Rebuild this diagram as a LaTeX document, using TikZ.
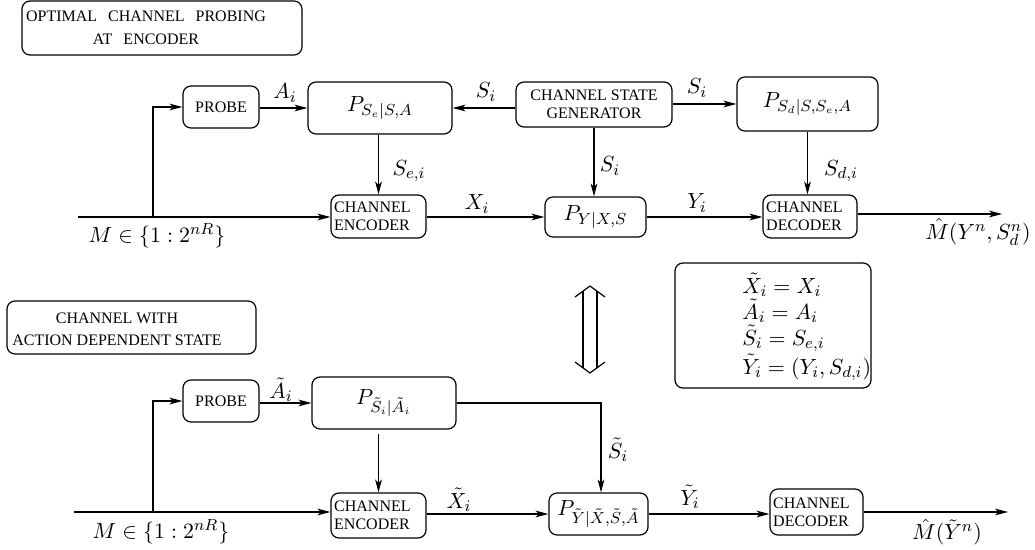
\documentclass[tikz,border=0pt]{standalone}
\usepackage{fontspec}
\setmainfont{Liberation Serif}
\usetikzlibrary{arrows.meta}
\begin{document}
\begin{tikzpicture}[x=0.5pt,y=-0.5pt,
 box/.style={draw, rounded corners=4pt, inner sep=0pt, font=\fontsize{8}{9}\selectfont, line width=0.6pt},
 tbox/.style={box, align=left, inner xsep=1.6pt},
 mbox/.style={box, font=\fontsize{11}{13}\selectfont},
 lab/.style={font=\fontsize{11}{13}\selectfont, inner sep=0pt},
 ttl/.style={font=\fontsize{8}{11.5}\selectfont, align=center, inner sep=0pt},
 conn/.style={line width=0.6pt, -{Stealth[length=6.5pt,width=3.4pt,inset=1.8pt]}},
 plain/.style={line width=0.6pt}]
\useasboundingbox (0,0) rectangle (1035,550);

% titles
\draw[plain, rounded corners=4pt] (22,1) rectangle (302,55);
\node[ttl] (t1) at (146,28) {OPTIMAL\hspace{3.5pt} CHANNEL\hspace{3.5pt} PROBING\\AT\hspace{3.5pt} ENCODER};
\draw[plain, rounded corners=4pt] (7,301) rectangle (256,354);
\node[ttl, font=\fontsize{8}{11}\selectfont] (t2) at (117,329) {CHANNEL WITH\\ACTION DEPENDENT STATE};

% top row boxes
\node[box, minimum width=38pt, minimum height=21pt] (probe1) at (221,107) {PROBE};
\node[mbox, minimum width=72pt, minimum height=26pt] (pse) at (380,108) {$P_{S_e|S,A}$};
\node[box, align=center, minimum width=78pt, minimum height=22.5pt] (csg) at (594,104.5) {CHANNEL STATE\\GENERATOR};
\node[mbox, minimum width=70.5pt, minimum height=27pt] (psd) at (807.5,104) {$P_{S_d|S,S_e,A}$};
\node[tbox, text width=44.3pt, minimum height=21.5pt] (enc1) at (378.5,216.5) {CHANNEL\\ENCODER};
\node[mbox, minimum width=50.5pt, minimum height=20pt] (py) at (595.5,217) {$P_{Y|X,S}$};
\node[tbox, text width=43.8pt, minimum height=21.5pt] (dec1) at (810,216.5) {CHANNEL\\DECODER};
\coordinate (in1) at (78,217);
\coordinate (br1) at (153,217);
\coordinate (out1) at (1002,214);

\draw[plain] (in1) -- (br1);
\draw[conn] (br1) -- (in1 -| enc1.west);
\draw[conn] (br1) |- (probe1.west);
\draw[conn] (probe1.east |- pse) -- (pse.west);
\draw[conn] (csg.west |- pse) -- (pse.east);
\draw[conn] (csg.east |- psd) -- (psd.west);
\draw[conn] (csg.south) -- (csg.south |- py.north);
\draw[conn] (pse.south -| enc1.north) -- (enc1.north);
\draw[conn] (psd.south) -- (psd.south |- dec1.north);
\draw[conn] (enc1.east |- py) -- (py.west);
\draw[conn] (py.east) -- (py.east -| dec1.west);
\draw[conn] (dec1.east |- out1) -- (out1);

\node[lab] (lA) at (285,93) {$A_i$};
\node[lab] (lS1) at (486,92) {$S_i$};
\node[lab] (lS2) at (697,88) {$S_i$};
\node[lab] (lS3) at (610,166) {$S_i$};
\node[lab] (lSe) at (409,171) {$S_{e,i}$};
\node[lab] (lSd) at (841,171) {$S_{d,i}$};
\node[lab] (lX) at (477,204) {$X_i$};
\node[lab] (lY) at (697,203) {$Y_i$};
\node[lab] (lM1) at (157,236) {$M\in\{1:2^{nR}\}$};
\node[lab] (lO1) at (978,232) {$\hat{M}(Y^n,S_d^n)$};

% equivalence arrow
\draw[plain] (575,297) -- (590,286) -- (605,297);
\draw[plain] (575,362) -- (590,373) -- (605,362);
\draw[plain] (583,291.1) -- (583,367.9);
\draw[plain] (597,291.1) -- (597,367.9);

% equations box
\node[box, minimum width=98pt, minimum height=62.5pt] (eq) at (773,325.5) {};
\node[lab, align=left, anchor=west, font=\fontsize{11}{13}\selectfont] (eqtxt) at (742,327) {$\tilde{X}_i=X_i$\\$\tilde{A}_i=A_i$\\$\tilde{S}_i=S_{e,i}$\\$\tilde{Y}_i=(Y_i,S_{d,i})$};

% bottom row
\node[box, minimum width=38pt, minimum height=21pt] (probe2) at (221,401) {PROBE};
\node[mbox, minimum width=72pt, minimum height=26pt] (pst) at (384,403) {$P_{\tilde{S}_i|\tilde{A}_i}$};
\node[tbox, text width=44.3pt, minimum height=22.5pt] (enc2) at (378.5,515.5) {CHANNEL\\ENCODER};
\node[mbox, minimum width=49.5pt, minimum height=21pt] (pyt) at (598.5,514) {$P_{\tilde{Y}|\tilde{X},\tilde{S},\tilde{A}}$};
\node[tbox, text width=43.3pt, minimum height=23pt] (dec2) at (816.5,512) {CHANNEL\\DECODER};
\coordinate (in2) at (74,512);
\coordinate (br2) at (153,512);
\coordinate (c1) at (601,403);
\coordinate (out2) at (1008,512);

\draw[plain] (in2) -- (br2);
\draw[conn] (br2) -- (in2 -| enc2.west);
\draw[conn] (br2) |- (probe2.west);
\draw[conn] (probe2.east |- pst) -- (pst.west);
\draw[conn] (pst.east) -- (c1) -- (c1 |- pyt.north);
\draw[conn] ([yshift=-2pt]pst.south -| enc2.north) -- (enc2.north);
\draw[conn] (enc2.east |- pyt) -- (pyt.west);
\draw[conn] (pyt.east) -- (pyt.east -| dec2.west);
\draw[conn] (dec2.east) -- (out2);

\node[lab] (lAt) at (281,390) {$\tilde{A}_i$};
\node[lab] (lSt) at (618,450) {$\tilde{S}_i$};
\node[lab] (lXt) at (459,500) {$\tilde{X}_i$};
\node[lab] (lYt) at (690,497) {$\tilde{Y}_i$};
\node[lab] (lM2) at (161,532) {$M\in\{1:2^{nR}\}$};
\node[lab] (lO2) at (947,532) {$\hat{M}(\tilde{Y}^n)$};
\end{tikzpicture}
\end{document}
